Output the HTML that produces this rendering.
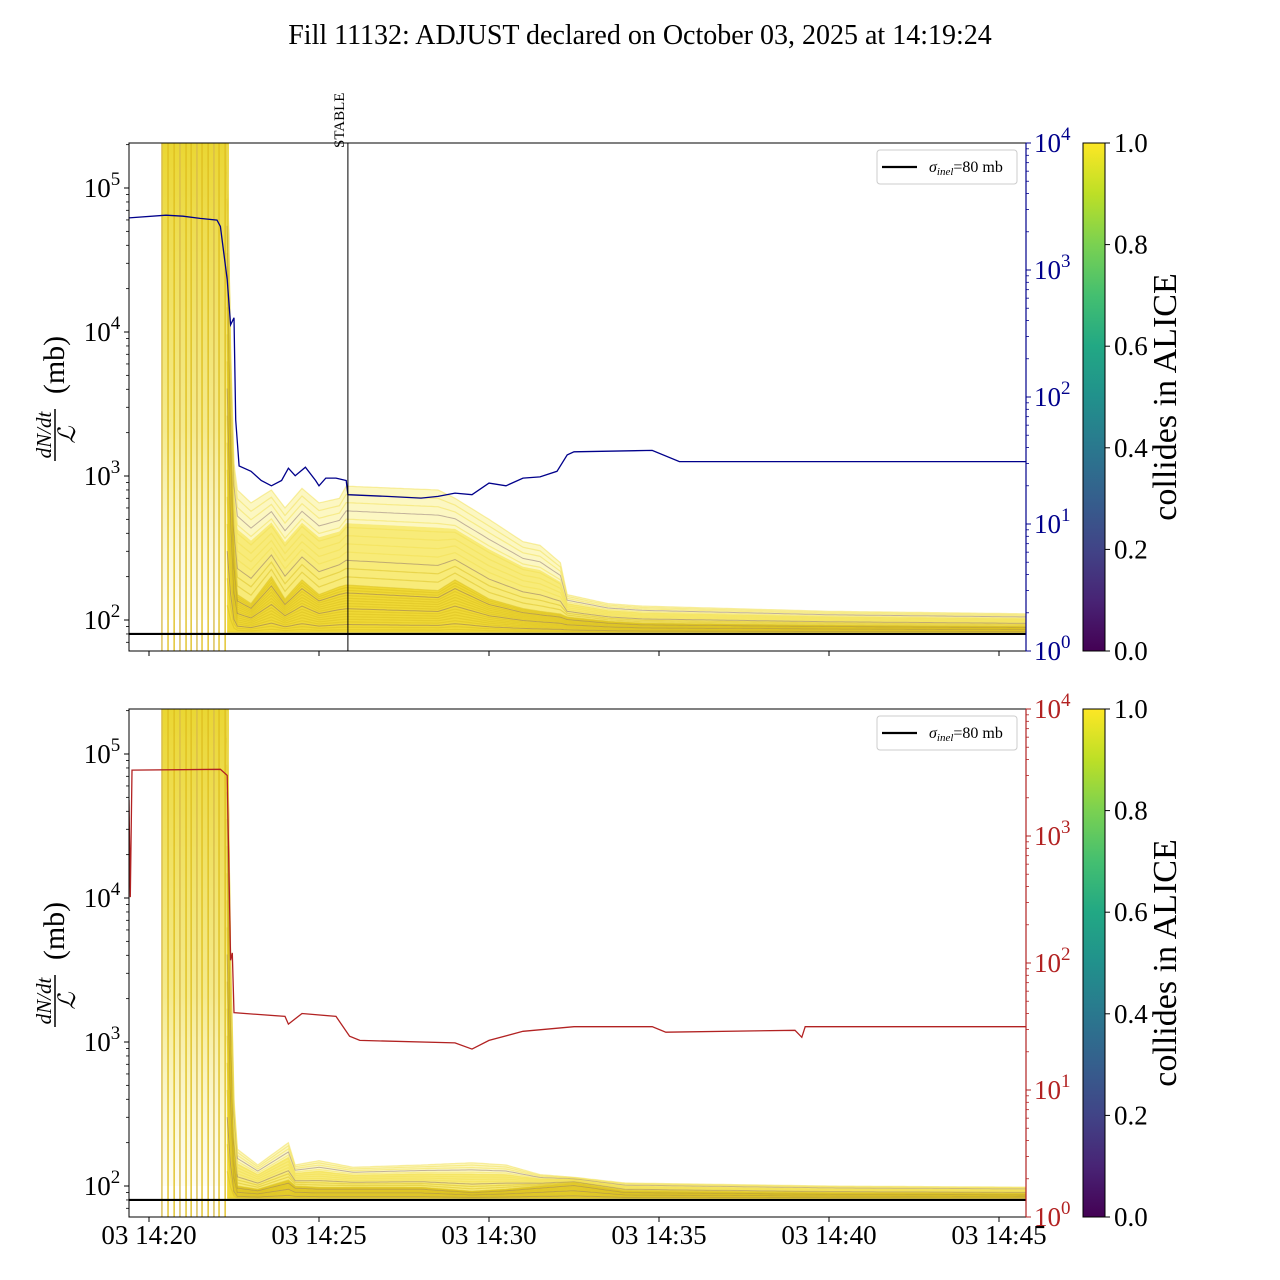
<!DOCTYPE html>
<html><head><meta charset="utf-8">
<style>
html,body{margin:0;padding:0;background:#fff;}
svg{display:block;font-family:"Liberation Serif","DejaVu Serif",serif;}
</style></head>
<body>
<svg id="fig" width="1280" height="1280" viewBox="0 0 1280 1280" xmlns="http://www.w3.org/2000/svg">
<defs>
<linearGradient id="viridis" x1="0" y1="1" x2="0" y2="0">
<stop offset="0" stop-color="#440154"/><stop offset="0.1" stop-color="#482475"/><stop offset="0.2" stop-color="#414487"/>
<stop offset="0.3" stop-color="#355f8d"/><stop offset="0.4" stop-color="#2a788e"/><stop offset="0.5" stop-color="#21918c"/>
<stop offset="0.6" stop-color="#22a884"/><stop offset="0.7" stop-color="#44bf70"/><stop offset="0.8" stop-color="#7ad151"/>
<stop offset="0.9" stop-color="#bddf26"/><stop offset="1" stop-color="#fde725"/>
</linearGradient>
<linearGradient id="spikeFade" x1="0" y1="0" x2="0" y2="1">
<stop offset="0" stop-color="#e8d21c" stop-opacity="0.9"/><stop offset="0.6" stop-color="#eedc40" stop-opacity="0.6"/><stop offset="1" stop-color="#f5ea80" stop-opacity="0.1"/>
</linearGradient>
<clipPath id="clipTop"><rect x="129" y="143" width="897" height="508"/></clipPath>
<clipPath id="clipBot"><rect x="129" y="709" width="897" height="508"/></clipPath>
</defs>
<text x="640" y="44" font-size="28" text-anchor="middle">Fill 11132: ADJUST declared on October 03, 2025 at 14:19:24</text>
<g id="top"></g>
<g id="bot"></g>
</svg>
<script>
// ---- data (time in minutes after 14:20) ----
const xTickLabels = ["03 14:20","03 14:25","03 14:30","03 14:35","03 14:40","03 14:45"];
const xTickMinutes = [0,5,10,15,20,25];
const spikeLineTimes = [0.38,0.56,0.74,0.91,1.09,1.24,1.41,1.56,1.74,1.91,2.06,2.24];
const sigmaInel = 80;
const stableTime = 5.85;

const blueT = [-0.6,0.5,1.0,1.5,2.0,2.1,2.3,2.4,2.5,2.55,2.65,3.0,3.3,3.6,3.9,4.1,4.3,4.6,4.9,5.0,5.2,5.5,5.8,5.85,7.0,8.0,8.5,9.0,9.5,10.0,10.5,11.0,11.5,12.0,12.3,12.5,14.8,15.6,26.4];
const blueV = [2570,2700,2650,2550,2470,2200,840,370,420,66,28.6,26,22,20,22,27.5,24,28,22,20,23,23,22,17,16.5,16,16.5,17.5,17,21,20,23,23.5,26,35,37,38,31,31];

const redT = [-0.6,-0.55,-0.5,2.1,2.3,2.4,2.45,2.5,4.0,4.1,4.5,5.5,5.9,6.2,9.0,9.5,10.0,11.0,12.5,14.8,15.2,19.0,19.2,19.3,26.4];
const redV = [1920,330,3300,3350,3000,105,120,40.6,38,33,40,38,26.5,24.6,23.5,21,24.6,29,31.5,31.5,28.5,29.5,26,31.5,31.5];

const bandTopT = [2.3,2.45,2.6,3.0,3.6,4.0,4.5,5.0,5.6,5.8,8.5,9.0,10.0,11.0,11.5,12.1,12.3,13.5,14.5,20,26.4];
const bandTopUpper = [200000,1500,800,650,800,600,820,650,700,850,800,700,500,350,330,250,150,130,125,115,110];
const bandTopMid = [200000,400,150,130,200,140,190,150,170,175,160,190,140,120,115,110,105,98,95,92,90];
const bandBotT = [2.3,2.45,2.6,3.2,4.1,4.3,5.0,6.0,8.0,9.5,10.5,11.5,12.5,14,20,26.4];
const bandBotUpper = [200000,600,180,140,200,140,150,135,140,145,140,120,115,105,100,98];
const bandBotMid = [200000,200,100,95,110,100,98,98,98,92,95,100,105,92,89,88];
const bandLower = 82;

const cbTicks = [0.0,0.2,0.4,0.6,0.8,1.0];

// ---- scales ----
const X0=129, X1=1026;
const xs = t => 149 + 34*t;
function panel(top){ return {
  yl: v => top+45 + (5-Math.log10(v))*144,
  yr: v => top + (4-Math.log10(v))*127,
  top, bot: top+508 };}
const NS="http://www.w3.org/2000/svg";
function el(tag, attrs, parent){ const e=document.createElementNS(NS,tag); for(const k in attrs) e.setAttribute(k,attrs[k]); parent.appendChild(e); return e; }
function lerpLog(tArr, vArr, t){
  if(t<=tArr[0]) return vArr[0];
  for(let i=1;i<tArr.length;i++){ if(t<=tArr[i]){ const f=(t-tArr[i-1])/(tArr[i]-tArr[i-1]); return Math.pow(10, Math.log10(vArr[i-1])*(1-f)+Math.log10(vArr[i])*f);} }
  return vArr[vArr.length-1];
}

function drawPanel(g, P, lineT, lineV, lineColor, bT, bU, bM, showXLabels, isTop){
  const clip = isTop ? "url(#clipTop)" : "url(#clipBot)";
  const cg = el("g",{"clip-path":clip},g);
  
  
  // spike block
  const sb=el("rect",{x:xs(spikeLineTimes[0]),y:P.top,width:xs(2.35)-xs(spikeLineTimes[0]),height:P.yl(100)-P.top,fill:"url(#spikeFade)"},cg);
  
  
  // spike vertical lines
  spikeLineTimes.forEach((t,i)=>{
    const l=el("line",{x1:xs(t),x2:xs(t),y1:P.top,y2:P.bot,stroke:(i%3==0?"#d9bc4a":"#e0c020"),"stroke-width":1.6,opacity:0.85},cg);
    
    
  });
  // band fills & lines
  function bandPts(f, reverse){
    let pts=[];
    for(let t=bT[0]; t<=26.5; t+=0.1){
      const u=Math.log10(lerpLog(bT,bU,t)), m=Math.log10(lerpLog(bT,bM,t)), lo=Math.log10(bandLower);
      let v = f<0.6 ? lo+(m-lo)*(f/0.6) : m+(u-m)*((f-0.6)/0.4);
      pts.push(xs(t).toFixed(1)+","+P.yl(Math.pow(10,v)).toFixed(1));
    }
    return reverse?pts.reverse():pts;
  }
  [[1.0,"#fbf3a8",0.7],[0.85,"#f6e65a",0.7],[0.6,"#eed62a",0.85]].forEach(([f,c,o])=>{
    const poly=el("polygon",{points:bandPts(f,false).concat(bandPts(0,true)).join(" "),fill:c,opacity:o},cg);
    
    
  });
  const N=30;
  for(let k=0;k<=N;k++){
    const f=k/N;
    const purple = (k%6==3);
    const pl=el("polyline",{points:bandPts(f,false).join(" "),fill:"none",stroke:purple?"#7a5a6a":(f>0.7?"#f2e050":"#d9c020"),"stroke-width":purple?1:1.2,opacity:purple?0.45:0.5},cg);
    
    
  }
  // sigma line
  const sl=el("line",{x1:X0,x2:X1,y1:P.yl(sigmaInel),y2:P.yl(sigmaInel),stroke:"#000","stroke-width":2.2},g);
  
  
  // right-axis line
  const lp=lineT.map((t,i)=>Math.max(X0,xs(t)).toFixed(1)+","+P.yr(lineV[i]).toFixed(1)).join(" ");
  const rl=el("polyline",{points:lp,fill:"none",stroke:lineColor,"stroke-width":1.3},cg);
  
  
  if(isTop){
    const st=el("line",{x1:xs(stableTime),x2:xs(stableTime),y1:P.top,y2:P.bot,stroke:"#000","stroke-width":1},g);
    
    
    const sx=el("text",{x:0,y:0,"font-size":15,transform:`translate(${xs(stableTime)-4},148) rotate(-90)`},g);
    sx.textContent="STABLE";
    
    
  }
  // frame
  const fr=el("rect",{x:X0,y:P.top,width:X1-X0,height:508,fill:"none",stroke:"#000","stroke-width":1},g);
  
  
  el("line",{x1:X1,x2:X1,y1:P.top,y2:P.bot,stroke:lineColor,"stroke-width":1.2},g);
  // x ticks
  xTickMinutes.forEach((m,i)=>{
    el("line",{x1:xs(m),x2:xs(m),y1:P.bot,y2:P.bot+5,stroke:"#000"},g);
    if(showXLabels){
      const t=el("text",{x:xs(m),y:P.bot+27,"font-size":27,"text-anchor":"middle"},g);
      t.textContent=xTickLabels[i];
      
      
    }
  });
  // left y ticks
  for(let d=1; d<=5; d++){
    for(let m=1;m<10;m++){
      const v=m*Math.pow(10,d); const y=P.yl(v);
      if(y<P.top-0.5||y>P.bot+0.5) continue;
      el("line",{x1:X0,x2:X0-(m==1?5:3),y1:y,y2:y,stroke:"#000","stroke-width":m==1?1:0.8},g);
      if(m==1){
        const t=el("text",{x:X0-27,y:y+9,"font-size":27,"text-anchor":"middle"},g);
        t.innerHTML=`10<tspan dy="-12" font-size="19">${d}</tspan>`;
        
        
      }
    }
  }
  // right y ticks
  for(let d=0; d<=4; d++){
    for(let m=1;m<10;m++){
      const v=m*Math.pow(10,d); const y=P.yr(v);
      if(y<P.top-0.5||y>P.bot+0.5) continue;
      el("line",{x1:X1,x2:X1+(m==1?5:3),y1:y,y2:y,stroke:lineColor,"stroke-width":m==1?1:0.8},g);
      if(m==1){
        const t=el("text",{x:X1+8,y:y+9,"font-size":27,fill:lineColor},g);
        t.innerHTML=`10<tspan dy="-12" font-size="19">${d}</tspan>`;
        
        
      }
    }
  }
  // y label
  const cy=P.top+254;
  const yl=el("g",{transform:`translate(55,${cy}) rotate(-90)`},g);
  
  
  const a=el("text",{x:-38,y:-4,"font-size":21,"font-style":"italic","text-anchor":"middle"},yl); a.textContent="dN/dt";
  el("line",{x1:-64,x2:-12,y1:0,y2:0,stroke:"#000","stroke-width":1.5},yl);
  const b=el("text",{x:-38,y:20,"font-size":24,"font-style":"italic","text-anchor":"middle"},yl); b.textContent="\u2112";
  const c=el("text",{x:32,y:9,"font-size":30,"text-anchor":"middle"},yl); c.textContent="(mb)";
  // legend
  const lg=el("g",{},g);
  
  
  el("rect",{x:877,y:P.top+7,width:140,height:34,rx:3,fill:"#fff",stroke:"#ccc"},lg);
  el("line",{x1:882,x2:917,y1:P.top+24,y2:P.top+24,stroke:"#000","stroke-width":2.2},lg);
  const lt=el("text",{x:929,y:P.top+29,"font-size":16},lg);
  lt.innerHTML=`<tspan font-style="italic">σ</tspan><tspan font-style="italic" font-size="11" dy="3">inel</tspan><tspan dy="-3">=80 mb</tspan>`;
  // colorbar
  const cb=el("g",{},g);
  
  
  el("rect",{x:1083,y:P.top,width:22,height:508,fill:"url(#viridis)",stroke:"#000","stroke-width":1},cb);
  cbTicks.forEach(v=>{
    const y=P.bot-508*v;
    el("line",{x1:1105,x2:1110,y1:y,y2:y,stroke:"#000"},cb);
    const t=el("text",{x:1114,y:y+9,"font-size":27},cb);
    t.textContent=v.toFixed(1);
  });
  const ct=el("text",{x:0,y:0,"font-size":34,"text-anchor":"middle",transform:`translate(1176,${P.top+254}) rotate(-90)`},cb);
  ct.textContent="collides in ALICE";
}
drawPanel(document.getElementById("top"), panel(143), blueT, blueV, "#00008b", bandTopT, bandTopUpper, bandTopMid, false, true);
drawPanel(document.getElementById("bot"), panel(709), redT, redV, "#b22222", bandBotT, bandBotUpper, bandBotMid, true, false);
</script>
</body></html>
